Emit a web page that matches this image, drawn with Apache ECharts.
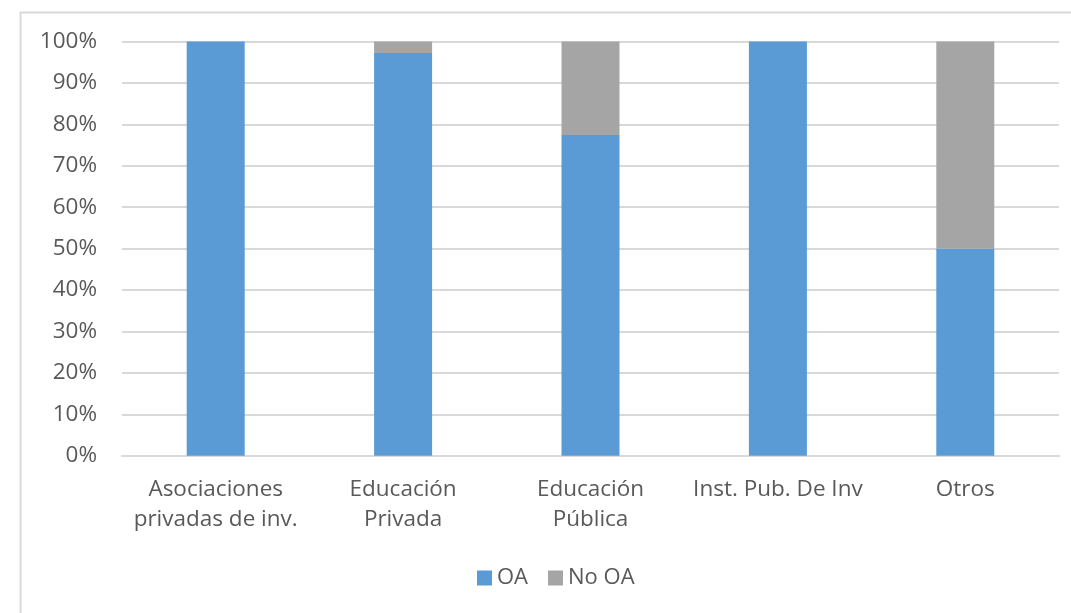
<!DOCTYPE html>
<html>
<head>
<meta charset="utf-8">
<script src="https://cdn.jsdelivr.net/npm/echarts@6/dist/echarts.min.js"></script>
<style>html,body{margin:0;padding:0;background:#fff;}#c{width:1071px;height:613px;}</style>
</head>
<body>
<div id="c"></div>
<script>
const categories = ['Asociaciones\nprivadas de inv.', 'Educación\nPrivada', 'Educación\nPública', 'Inst. Pub. De Inv', 'Otros'];
const oaValues = [100, 97.2, 77.4, 100, 50];
const noOaValues = [0, 2.8, 22.6, 0, 50];
const yTicks = { min: 0, max: 100, interval: 10 };

const chart = echarts.init(document.getElementById('c'), null, { renderer: 'canvas' });
const font = '"Open Sans", "Noto Sans", sans-serif';
chart.setOption({
  animation: false,
  backgroundColor: '#ffffff',
  textStyle: { fontFamily: font },
  graphic: [{
    type: 'rect', left: 18, top: 10,
    shape: { width: 1200, height: 800 },
    style: { fill: 'none', stroke: '#d9d9d9', lineWidth: 2 },
    silent: true
  }],
  grid: { left: 122, right: 12, top: 41.5, bottom: 157.3, containLabel: false },
  legend: {
    top: 562, left: 472,
    icon: 'rect', itemWidth: 15, itemHeight: 15, itemGap: 20, itemStyle: { borderWidth: 0 },
    textStyle: { fontSize: 22, color: '#595959', fontFamily: font, padding: [0, 0, 0, 0] },
    data: ['OA', 'No OA']
  },
  xAxis: {
    type: 'category',
    data: categories,
    axisLine: { show: true, lineStyle: { color: '#d9d9d9', width: 2 } },
    axisTick: { show: false },
    axisLabel: { color: '#595959', fontSize: 22.5, lineHeight: 30, margin: 19, interval: 0, fontFamily: font }
  },
  yAxis: {
    type: 'value',
    min: yTicks.min, max: yTicks.max, interval: yTicks.interval,
    axisLine: { show: false },
    axisTick: { show: false },
    splitLine: { lineStyle: { color: '#d9d9d9', width: 2 } },
    axisLabel: { formatter: '{value}%', color: '#595959', fontSize: 22.5, margin: 25, fontFamily: font }
  },
  series: [
    { name: 'OA', type: 'bar', stack: 'total', data: oaValues, barWidth: 58, itemStyle: { color: '#5b9bd5' } },
    { name: 'No OA', type: 'bar', stack: 'total', data: noOaValues, barWidth: 58, itemStyle: { color: '#a5a5a5' } }
  ]
});
</script>
</body>
</html>
